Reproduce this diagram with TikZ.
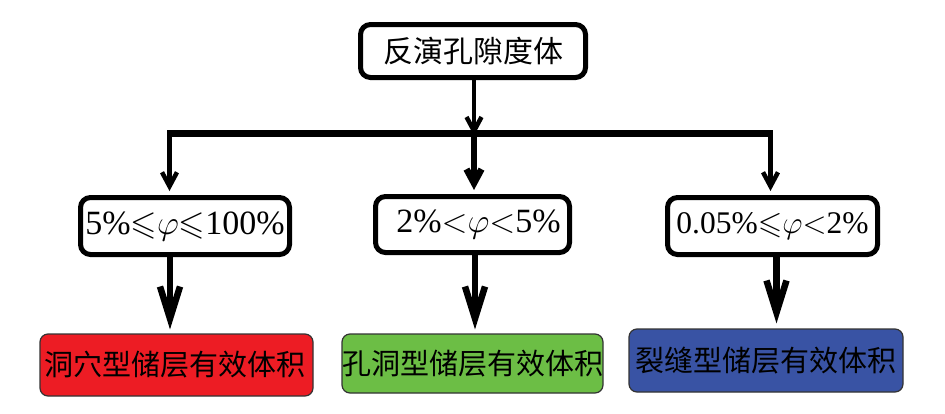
\RequirePackage{fix-cm}
\documentclass[tikz,border=0pt]{standalone}
\usepackage{fontspec}
\usepackage{amssymb}
\setmainfont{Liberation Serif}
\newfontfamily\cjk{Noto Sans CJK SC}
\usetikzlibrary{arrows.meta}
\definecolor{boxred}{HTML}{ED1C24}
\definecolor{boxgreen}{HTML}{6CBE45}
\definecolor{boxblue}{HTML}{3953A4}
\definecolor{edgegray}{HTML}{333333}
\newcommand{\myle}{\mathord{\leqslant}}
\newcommand{\mylt}{\mathord{<}}
\tikzset{
  whitebox/.style={draw=black, line width=5pt, rounded corners=10pt, fill=white,
    inner sep=0pt, align=center},
  colbox/.style={draw=edgegray, line width=1.2pt, rounded corners=8pt,
    inner sep=0pt, align=center, font=\cjk\fontsize{29}{29}\selectfont},
  thinarrow/.style={line width=4.5pt, -{Straight Barb[length=14pt,width=15pt]}},
  thickarrow/.style={line width=6.5pt, -{Straight Barb[length=32pt,width=20pt]}},
  condfont/.style={font=\fontsize{34}{34}\selectfont},
}
\begin{document}
\begin{tikzpicture}[x=1pt,y=-1pt]
\useasboundingbox (0,0) rectangle (945,413);
% top box
\node[whitebox, minimum width=225pt, minimum height=53pt,
      font=\cjk\fontsize{30}{30}\selectfont] (top) at (473,51) {反演孔隙度体};
% condition boxes
\node[whitebox, condfont, minimum width=209pt, minimum height=57pt] (c1) at (185,226)
  {5\%$\myle\varphi\myle$100\%};
\node[whitebox, condfont, minimum width=194pt, minimum height=56pt] (c2) at (472.5,224.5)
  {\hspace*{12pt}2\%$\mylt\varphi\mylt$5\%};
\node[whitebox, font=\fontsize{31.5}{31.5}\selectfont, minimum width=210pt, minimum height=57pt] (c3) at (772.5,226)
  {0.05\%$\myle\varphi\mylt$2\%};
% result boxes
\node[colbox, fill=boxred, minimum width=273pt, minimum height=62pt] (r1) at (176.5,365)
  {\hspace*{-4pt}洞穴型储层有效体积};
\node[colbox, fill=boxgreen, minimum width=259pt, minimum height=59pt] (r2) at (472.5,363.5)
  {孔洞型储层有效体积};
\node[colbox, fill=boxblue, minimum width=274pt, minimum height=63pt] (r3) at (766,360.5)
  {裂缝型储层有效体积};
% branching bar
\coordinate (bL) at (169.5,133.5);
\coordinate (bM) at (474,133.5);
\coordinate (bR) at (770.5,133.5);
\draw[line width=6.5pt] ([xshift=-2.25pt]bL) -- ([xshift=2.25pt]bR);
% top arrow to bar
\draw[thinarrow, shorten >=1pt] (top.south -| bM) -- ([yshift=-3.25pt]bM);
% bar to condition boxes
\draw[thinarrow, shorten >=4pt] (bL) -- (bL |- c1.north);
\draw[thinarrow, line width=6.5pt, shorten >=4pt] (bM) -- (bM |- c2.north);
\draw[thinarrow, shorten >=4pt] (bR) -- (bR |- c3.north);
% condition boxes to results
\coordinate (d1) at (170,0);
\coordinate (d2) at (475,0);
\coordinate (d3) at (776.5,0);
\draw[thickarrow, shorten >=4pt] (d1 |- c1.south) -- (d1 |- r1.north);
\draw[thickarrow, shorten >=4pt] (d2 |- c2.south) -- (d2 |- r2.north);
\draw[thickarrow, shorten >=5pt] (d3 |- c3.south) -- (d3 |- r3.north);
\end{tikzpicture}
\end{document}
